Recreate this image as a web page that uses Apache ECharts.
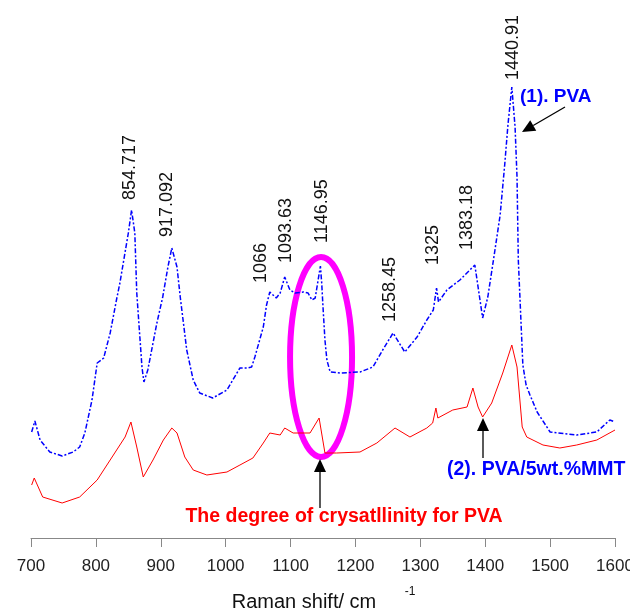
<!DOCTYPE html>
<html>
<head>
<meta charset="utf-8">
<script src="https://cdn.jsdelivr.net/npm/echarts@6/dist/echarts.min.js"></script>
<style>
  html, body { margin: 0; padding: 0; background: #fff; }
  #chart { width: 630px; height: 611px; }
</style>
</head>
<body>
<div id="chart"></div>
<script>
  // (1) PVA, Raman shift (cm-1) and relative intensity
  var pvaShift = [701, 706, 714, 729, 748, 765, 775, 783, 794, 802, 812, 822, 832, 837, 850, 855, 860, 863, 871, 874,
    880, 894, 903, 911, 917, 925, 930, 940, 950, 960, 980, 1002, 1011, 1022, 1033, 1040, 1045, 1058, 1063, 1068,
    1073, 1078, 1084, 1091, 1099, 1107, 1120, 1127, 1133, 1138, 1140, 1146, 1148, 1150, 1153, 1156, 1161, 1176, 1207, 1227,
    1242, 1258, 1276, 1295, 1310, 1320, 1325, 1328, 1341, 1361, 1384, 1389, 1396, 1404, 1415, 1423, 1430, 1435, 1441, 1446,
    1449, 1451, 1455, 1458, 1463, 1469, 1480, 1500, 1541, 1572, 1592, 1600];
  var pvaIntensity = [106, 117, 98, 86, 82, 86, 91, 105, 138, 175, 180, 205, 239, 255, 305, 328, 305, 245, 171, 156,
    168, 215, 241, 271, 290, 271, 241, 188, 158, 145, 140, 148, 158, 170, 170, 171, 181, 211, 233, 246,
    243, 240, 245, 261, 248, 245, 246, 245, 238, 240, 248, 272, 255, 231, 198, 178, 166, 165, 166, 171,
    188, 205, 186, 201, 218, 228, 250, 236, 248, 258, 273, 251, 220, 241, 288, 323, 373, 413, 451, 411,
    361, 278, 218, 173, 153, 143, 126, 106, 103, 106, 118, 116];

  // (2) PVA/5wt.%MMT
  var mmtShift = [701, 705, 718, 748, 775, 802, 822, 845, 854, 863, 873, 888, 904, 917, 925, 937, 950, 971, 1002, 1022,
    1042, 1058, 1068, 1084, 1091, 1104, 1130, 1144, 1153, 1171, 1207, 1233, 1261, 1284, 1310, 1319, 1324, 1327, 1350, 1372,
    1381, 1389, 1396, 1410, 1427, 1441, 1449, 1457, 1464, 1489, 1515, 1541, 1572, 1600];
  var mmtIntensity = [53, 60, 41, 35, 41, 58, 78, 101, 116, 91, 61, 78, 98, 110, 105, 81, 68, 63, 66, 73,
    80, 95, 105, 103, 110, 105, 105, 120, 85, 85, 86, 95, 110, 101, 110, 115, 130, 120, 128, 131,
    150, 131, 121, 135, 165, 193, 171, 111, 101, 93, 90, 93, 98, 108];

  // peak labels and where each one starts (shift, intensity)
  var peakLabels = ['854.717', '917.092', '1066', '1093.63', '1146.95', '1258.45', '1325', '1383.18', '1440.91'];
  var peakLabelShift = [853, 909, 1054, 1093, 1149, 1253, 1319, 1372, 1443];
  var peakLabelBase = [338, 301, 255, 275, 295, 216, 273, 288, 458];

  function pairs(xs, ys) {
    return xs.map(function (x, i) { return [x, ys[i]]; });
  }

  var chart = echarts.init(document.getElementById('chart'));
  chart.setOption({
    animation: false,
    grid: { left: 31, right: 15, top: 0, bottom: 73, outerBoundsMode: 'none', containLabel: false },
    xAxis: {
      type: 'value',
      min: 700,
      max: 1600,
      interval: 100,
      axisLine: { lineStyle: { color: '#888', width: 1 } },
      axisTick: { length: 9, lineStyle: { color: '#888' } },
      axisLabel: {
        margin: 20, fontSize: 17, color: '#222', fontFamily: 'Liberation Sans, Arial',
        formatter: function (v) { return String(v); }
      },
      splitLine: { show: false }
    },
    yAxis: { type: 'value', min: 0, max: 538, show: false },
    series: [{
      name: '(1). PVA',
      type: 'line',
      data: pairs(pvaShift, pvaIntensity),
      showSymbol: false,
      lineStyle: { color: '#0000ff', width: 1.5, type: [5, 2, 2, 2] }
    }, {
      name: '(2). PVA/5wt.%MMT',
      type: 'line',
      data: pairs(mmtShift, mmtIntensity),
      showSymbol: false,
      lineStyle: { color: '#ff0000', width: 1 }
    }]
  });

  function px(x, y) { return chart.convertToPixel({ gridIndex: 0 }, [x, y]); }

  function arrow(x1, y1, x2, y2) {
    var a = Math.atan2(y2 - y1, x2 - x1), L = 13, W = 6;
    var bx = x2 - L * Math.cos(a), by = y2 - L * Math.sin(a);
    return [{
      type: 'line', shape: { x1: x1, y1: y1, x2: bx, y2: by },
      style: { stroke: '#000', lineWidth: 1.3 }
    }, {
      type: 'polygon',
      shape: { points: [[x2, y2], [bx - W * Math.sin(a), by + W * Math.cos(a)], [bx + W * Math.sin(a), by - W * Math.cos(a)]] },
      style: { fill: '#000' }
    }];
  }

  var font = 'Liberation Sans, Arial, sans-serif';
  var g = [];
  peakLabels.forEach(function (t, i) {
    var p = px(peakLabelShift[i], peakLabelBase[i]);
    g.push({
      type: 'text', x: p[0], y: p[1], rotation: Math.PI / 2,
      style: { text: t, fill: '#111', font: '18px ' + font, align: 'left', verticalAlign: 'middle' }
    });
  });

  var c = px(1147, 181);
  g.push({
    type: 'ellipse', shape: { cx: c[0], cy: c[1], rx: 31, ry: 100 },
    style: { fill: 'none', stroke: '#ff00ff', lineWidth: 6 }
  });

  g.push({ type: 'text', x: 520, y: 97,
    style: { text: '(1). PVA', fill: '#0000ff', font: 'bold 19px ' + font, align: 'left', verticalAlign: 'middle' } });
  g.push({ type: 'text', x: 447, y: 470,
    style: { text: '(2). PVA/5wt.%MMT', fill: '#0000ff', font: 'bold 19.5px ' + font, align: 'left', verticalAlign: 'middle' } });
  g.push({ type: 'text', x: 344, y: 517,
    style: { text: 'The degree of crysatllinity for PVA', fill: '#ff0000', font: 'bold 19.5px ' + font, align: 'center', verticalAlign: 'middle' } });

  g = g.concat(arrow(565, 107, 522, 132));
  g = g.concat(arrow(483, 458, 483, 418));
  g = g.concat(arrow(320, 508, 320, 459));

  g.push({ type: 'text', x: 304, y: 602,
    style: { text: 'Raman shift/ cm', fill: '#111', font: '20px ' + font, align: 'center', verticalAlign: 'middle' } });
  g.push({ type: 'text', x: 410, y: 592,
    style: { text: '-1', fill: '#111', font: '12px ' + font, align: 'center', verticalAlign: 'middle' } });

  chart.setOption({ graphic: g });
</script>
</body>
</html>
